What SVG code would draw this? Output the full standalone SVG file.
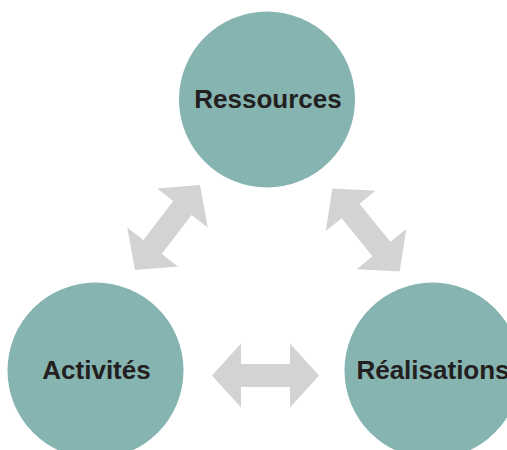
<svg xmlns="http://www.w3.org/2000/svg" width="507" height="450" viewBox="0 0 507 450">
  <style>
    .node circle { fill: #86b4b1; }
    .node text { font-family: "Liberation Sans", Arial, sans-serif; font-weight: bold; font-size: 26px; fill: #231f20; text-anchor: middle; }
    .link { fill: #d2d3d5; }
  </style>
  <defs>
    <!-- double-headed block arrow, centred on the origin, pointing along x -->
    <polygon id="dbl-arrow" points="-53.5,0 -24.5,-32 -24.5,-11.5 24.5,-11.5 24.5,-32 53.5,0 24.5,32 24.5,11.5 -24.5,11.5 -24.5,32"/>
  </defs>
  <rect width="507" height="450" fill="#ffffff"/>

  <g id="connectors">
    <use href="#dbl-arrow" class="link" transform="translate(167.5,227.5) rotate(-52.5)"/>
    <use href="#dbl-arrow" class="link" transform="translate(366,230) rotate(51)"/>
    <use href="#dbl-arrow" class="link" transform="translate(265.5,375.5)"/>
  </g>

  <g id="ressources" class="node">
    <circle cx="267" cy="99.5" r="88"/>
    <text x="268" y="107.5">Ressources</text>
  </g>

  <g id="activites" class="node">
    <circle cx="95.5" cy="370.5" r="88"/>
    <text x="96.5" y="378.5">Activités</text>
  </g>

  <g id="realisations" class="node">
    <circle cx="432.5" cy="370.5" r="88"/>
    <text x="433" y="378.5">Réalisations</text>
  </g>
</svg>
